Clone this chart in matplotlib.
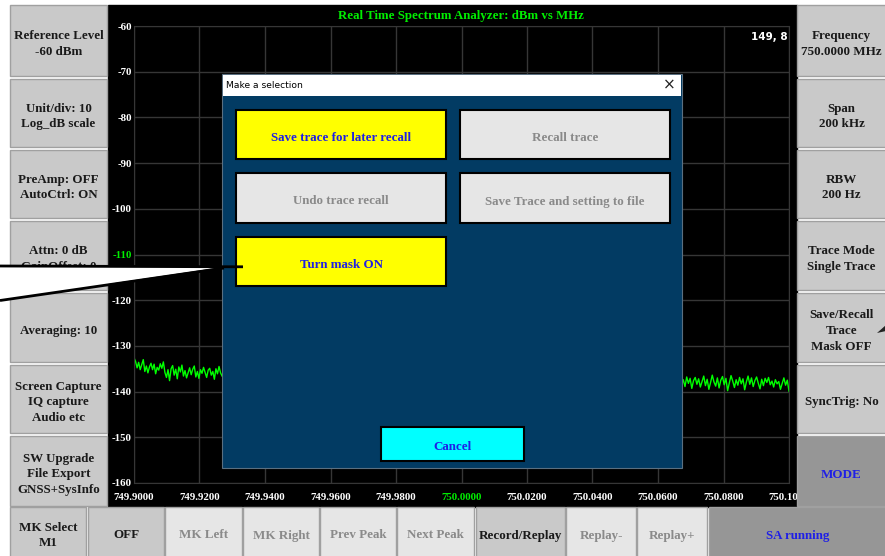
import numpy as np
import matplotlib.pyplot as plt
from matplotlib.patches import Rectangle, Polygon

# spectrum trace, visible parts only (dBm)
left_db = [-132.6, -133.4, -134.8, -133.6, -135.2, -134.1, -133.0, -135.6, -134.4, -135.9,
           -134.6, -133.8, -135.2, -134.0, -136.1, -134.7, -135.3, -133.9, -134.9, -133.5,
           -135.8, -136.9, -135.2, -137.6, -135.0, -134.3, -136.4, -135.1, -137.2, -134.6,
           -135.7, -134.2, -136.6, -135.4, -137.0, -135.9, -134.8, -136.3, -135.1, -134.4,
           -136.8, -135.6, -137.1, -135.2, -136.0, -134.7, -135.8, -136.9, -135.3, -134.9,
           -136.4, -135.6, -137.3, -135.0, -136.1, -134.5, -135.9, -136.6]
right_db = [-138.6, -137.4, -138.9, -136.8, -138.2, -137.1, -139.3, -137.6, -136.9, -138.4,
            -137.2, -139.0, -137.8, -136.6, -138.7, -137.3, -139.5, -138.0, -136.4, -137.9,
            -138.8, -137.0, -139.2, -137.5, -136.7, -138.5, -137.1, -139.8, -138.1, -136.5,
            -137.7, -139.1, -137.4, -138.6, -136.9, -138.3, -137.2, -139.6, -137.9, -136.6,
            -138.4, -137.0, -138.9, -137.6, -136.8, -138.2, -139.4, -137.3, -138.7, -137.1,
            -138.0, -136.9, -138.5, -137.7, -139.0, -137.4, -138.3, -137.8, -139.5, -138.2,
            -137.0, -138.6, -137.5, -139.9]
left_span = (749.9000, 749.9269)
right_span = (750.0672, 750.1000)

freq_ticks = [749.90, 749.92, 749.94, 749.96, 749.98, 750.00, 750.02, 750.04, 750.06, 750.08, 750.10]
freq_labels = ["749.9000", "749.9200", "749.9400", "749.9600", "749.9800", "750.0000",
               "750.0200", "750.0400", "750.0600", "750.0800", "750.1000"]
db_ticks = [-60, -70, -80, -90, -100, -110, -120, -130, -140, -150, -160]

left_labels = ["Reference Level\n-60 dBm", "Unit/div: 10\nLog_dB scale", "PreAmp: OFF\nAutoCtrl: ON",
               "Attn: 0 dB\nGainOffset: 0", "Averaging: 10", "Screen Capture\nIQ capture\nAudio etc",
               "SW Upgrade\nFile Export\nGNSS+SysInfo"]
right_labels = ["Frequency\n750.0000 MHz", "Span\n200 kHz", "RBW\n200 Hz", "Trace Mode\nSingle Trace",
                "Save/Recall\nTrace\nMask OFF", "SyncTrig: No", "MODE"]
bottom_labels = ["MK Select\nM1", "OFF", "MK Left", "MK Right", "Prev Peak", "Next Peak",
                 "Record/Replay", "Replay-", "Replay+", "SA running"]
dialog_labels = ["Save trace for later recall", "Recall trace", "Undo trace recall",
                 "Save Trace and setting to file", "Turn mask ON"]

W, H = 885, 556
SERIF = "Liberation Serif"
GRAY, LIGHT, DARK = "#c9c9c9", "#e6e6e6", "#969696"
INK, DIM, BLUE = "#1a1a1a", "#8a8a8a", "#1f1fe6"

fig = plt.figure(figsize=(W / 100, H / 100), dpi=100, facecolor="white")

# black screen behind the plot
bg = fig.add_axes([0, 0, 1, 1], zorder=0)
bg.set_xlim(0, W)
bg.set_ylim(H, 0)
bg.axis("off")
bg.add_patch(Rectangle((108, 5), 689, 502, color="black"))

# spectrum axes
x0, x1, y0, y1 = 134, 789, 26, 483
ax = fig.add_axes([x0 / W, 1 - y1 / H, (x1 - x0) / W, (y1 - y0) / H], zorder=1)
ax.set_facecolor("none")
ax.set_xlim(749.9, 750.1)
ax.set_ylim(-160, -60)
ax.set_xticks(freq_ticks)
ax.set_xticklabels(freq_labels)
ax.set_yticks(db_ticks)
ax.set_yticklabels([str(v) for v in db_ticks])
ax.tick_params(length=0, colors="white", labelsize=7.8, pad=1.5)
ax.tick_params(axis="x", pad=7)
for lab in ax.get_xticklabels() + ax.get_yticklabels():
    lab.set_fontfamily(SERIF)
    lab.set_fontweight("bold")
ax.get_xticklabels()[5].set_color("#00ee00")
ax.get_yticklabels()[5].set_color("#00ee00")
ax.grid(True, color="#363636", lw=1)
for s in ax.spines.values():
    s.set_color("#363636")

ax.plot(np.linspace(*left_span, len(left_db)), left_db, color="#00ff00", lw=1)
ax.plot(np.linspace(*right_span, len(right_db)), right_db, color="#00ff00", lw=1)

fig.text(461 / W, 1 - 16 / H, "Real Time Spectrum Analyzer: dBm vs MHz", color="#00ee00",
         fontsize=9.3, fontweight="bold", family=SERIF, ha="center", va="center")
fig.text(788 / W, 1 - 37 / H, "149, 8", color="white", fontsize=7.5, fontweight="bold",
         family="DejaVu Sans", ha="right", va="center")

# buttons, dialog and callout on top
top = fig.add_axes([0, 0, 1, 1], zorder=2)
top.set_facecolor("none")
top.set_xlim(0, W)
top.set_ylim(H, 0)
top.axis("off")


def button(xa, ya, xb, yb, label, fill, tcolor, size=9.4, edge="#a0a0a0", lw=1.0, z=2):
    top.add_patch(Rectangle((xa, ya), xb - xa, yb - ya, facecolor=fill, edgecolor=edge, lw=lw, zorder=z))
    top.text((xa + xb) / 2, (ya + yb) / 2 + 3.5, label, color=tcolor, fontsize=size, fontweight="bold",
             family=SERIF, ha="center", va="center", linespacing=1.4, zorder=z + 0.1)


side_rows = [(5, 76), (79, 147), (150, 218), (221, 290), (293, 362), (365, 433), (436, 506)]
for (ya, yb), lab in zip(side_rows, left_labels):
    button(10, ya, 107, yb, lab, GRAY, INK)
for i, ((ya, yb), lab) in enumerate(zip(side_rows, right_labels)):
    if i == 6:
        button(797, ya, 886, yb, lab, DARK, BLUE)
    else:
        button(797, ya, 886, yb, lab, GRAY, INK)

bottom_cols = [(10, 86), (88, 164), (165, 242), (243, 319), (320, 396), (397, 474),
               (476, 565), (566, 636), (637, 707), (709, 886)]
bottom_fill = [GRAY, GRAY, LIGHT, LIGHT, LIGHT, LIGHT, GRAY, LIGHT, LIGHT, DARK]
bottom_text = [INK, INK, DIM, DIM, DIM, DIM, INK, DIM, DIM, BLUE]
for (xa, xb), lab, fc, tc in zip(bottom_cols, bottom_labels, bottom_fill, bottom_text):
    button(xa, 507, xb, 557, lab, fc, tc)

# dialog window
top.add_patch(Rectangle((222, 74), 460, 394, facecolor="#023b63", edgecolor="#5a6f80", lw=0.8, zorder=3))
top.add_patch(Rectangle((223, 75), 458, 21, facecolor="white", edgecolor="none", zorder=3.1))
top.text(226, 85, "Make a selection", fontsize=6.6, family="DejaVu Sans", color="black",
         va="center", ha="left", zorder=3.2)
top.text(669, 85, "\u00d7", fontsize=11, family="DejaVu Sans", color="#222222",
         va="center", ha="center", zorder=3.2)

dlg_boxes = [(236, 110, 446, 159), (460, 110, 670, 159), (236, 173, 446, 223),
             (460, 173, 670, 223), (236, 237, 446, 286)]
dlg_fill = ["#ffff00", LIGHT, LIGHT, LIGHT, "#ffff00"]
dlg_text = [BLUE, DIM, DIM, DIM, BLUE]
for (xa, ya, xb, yb), lab, fc, tc in zip(dlg_boxes, dialog_labels, dlg_fill, dlg_text):
    button(xa, ya, xb, yb, lab, fc, tc, size=9.4, edge="black", lw=1.5, z=4)
button(381, 427, 524, 461, "Cancel", "#00ffff", BLUE, size=9.4, edge="black", lw=1.5, z=4)

# callout pointing at the mask button
top.add_patch(Polygon([(0, 266), (226, 266.5), (0, 300)], closed=True, facecolor="white",
                      edgecolor="none", zorder=5))
top.plot([0, 243], [266, 266.8], color="black", lw=2, zorder=5.1, solid_capstyle="butt")
top.plot([0, 224], [300.5, 268], color="black", lw=2, zorder=5.1, solid_capstyle="butt")
top.add_patch(Polygon([(877, 333), (886, 325), (886, 331)], closed=True, facecolor="#222222",
                      edgecolor="none", zorder=5))

fig.savefig("out.png", dpi=100)
